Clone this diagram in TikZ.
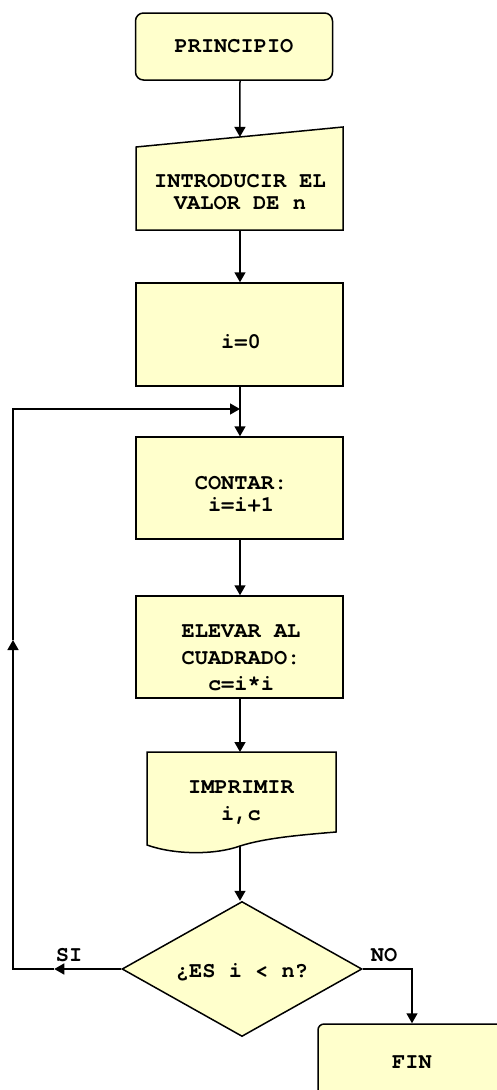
\documentclass[tikz,border=0pt]{standalone}
\usepackage{fontspec}
\setmainfont{TeX Gyre Cursor}
\usetikzlibrary{arrows.meta,shapes.geometric,calc}
\definecolor{boxfill}{RGB}{255,255,204}
\begin{document}
\begin{tikzpicture}[x=1pt,y=-1pt,
  shapeline/.style={draw=black,line width=1.5pt,fill=boxfill},
  box/.style={shapeline,rectangle,inner sep=0pt},
  txt/.style={font=\fontsize{22}{22}\selectfont\bfseries,align=center,inner sep=0pt},
  link/.style={draw=black,line width=1.5pt},
  arr/.style={link,-{Triangle[length=10pt,width=11pt]}}]
\useasboundingbox[fill=white] (0,0) rectangle (496,1090);

% main column of connectors
\coordinate (col) at (240,0);
% left return line
\coordinate (lcol) at (13,0);

% start
\node[box,rounded corners=8pt,minimum width=197pt,minimum height=67pt,txt] (pr) at (234,46.5) {PRINCIPIO};

% manual input: sloped top edge
\coordinate (inTL) at (136,147);
\coordinate (inTR) at (343,127);
\coordinate (inBR) at (343,230);
\coordinate (inBL) at (136,230);
\draw[shapeline] (inTL) -- (inTR) -- (inBR) -- (inBL) -- cycle;
\coordinate (inTop) at ($(inTL)!0.502!(inTR)$);
\coordinate (inBot) at (240,230);
\node[txt] (intxt) at (240,192) {INTRODUCIR EL\\VALOR DE n};

% process boxes
\node[box,minimum width=207pt,minimum height=103pt] (i0) at (239.5,334.5) {};
\node[txt] (i0txt) at (241,342) {i=0};

\node[box,minimum width=207pt,minimum height=102pt] (cont) at (239.5,488) {};
\node[txt] (conttxt) at (241,494) {CONTAR:\\i=i+1};

\node[box,minimum width=207pt,minimum height=102pt] (elev) at (239.5,647) {};
\node[txt,font=\fontsize{22}{26.5}\selectfont\bfseries] (elevtxt) at (241,658) {ELEVAR AL\\CUADRADO:\\c=i*i};

% printed document with wavy bottom edge
\coordinate (impTL) at (147,752);
\coordinate (impTR) at (336,752);
\coordinate (impBot) at (240,846);
\draw[shapeline] (impTL) -- (impTR) -- (336,832)
  .. controls (300,835) and (265,838) .. (impBot)
  .. controls (215,855) and (175,855) .. (147,845) -- cycle;
\coordinate (impTop) at (240,752);
\node[txt,font=\fontsize{22}{27}\selectfont\bfseries] (imptxt) at (241,803) {IMPRIMIR\\i,c};

% decision
\node[diamond,shapeline,inner sep=0pt,minimum width=240pt,minimum height=135pt] (dec) at (242,969) {};
\node[txt] (dectxt) at (242,972) {¿ES i < n?};

% end
\node[box,rounded corners=6pt,minimum width=188pt,minimum height=76pt,txt] (fin) at (412,1062) {FIN};

% connectors down the main column
\draw[arr] (pr.south -| col) -- (inTop);
\draw[arr] (inBot) -- (i0.north -| col);
\draw[arr] (i0.south -| col) -- (cont.north -| col);
\draw[arr] (cont.south -| col) -- (elev.north -| col);
\draw[arr] (elev.south -| col) -- (impTop);
\draw[arr] (impBot) -- (dec.north -| col);

% loop back when the condition holds
\coordinate (siTip) at ($(dec.west)+(-67,0)$);
\coordinate (loopBL) at (dec.west -| lcol);
\coordinate (upTip) at (13,640);
\coordinate (loopTL) at (13,409);
\coordinate (join) at (240,409);
\draw[arr] (dec.west) -- (siTip);
\draw[arr] (siTip) -- (loopBL) -- (upTip);
\draw[arr] (upTip) -- (loopTL) -- (join);

% exit when it does not
\draw[arr] (dec.east) -| (fin.north);

\node[txt] (si) at (69,955) {SI};
\node[txt] (no) at (384,955) {NO};
\end{tikzpicture}
\end{document}
